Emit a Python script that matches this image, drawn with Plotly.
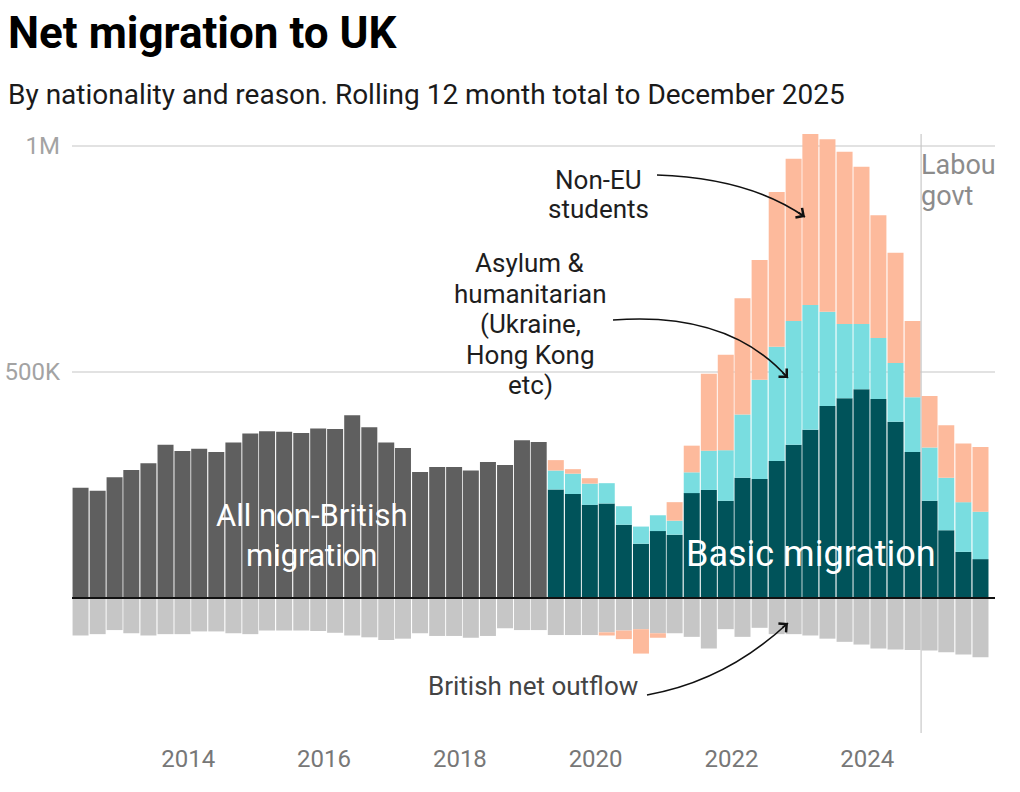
import pandas as pd
import plotly.graph_objects as go

# Rolling 12 month totals, one bar per quarter, placed at the end month of each period
periods = pd.date_range("2012-06-01", periods=54, freq="3MS")
split = 28  # from here on the non-British total is broken down by reason

# all values in thousands
british_outflow = [-83, -80, -71, -78, -83, -80, -80, -74, -74, -78, -80, -72, -72, -72,
                   -73, -77, -83, -87, -93, -90, -78, -84, -84, -88, -84, -67, -71, -71,
                   -82, -82, -82, -76, -72, -69, -78, -78, -86, -112, -69, -86, -66, -80,
                   -80, -83, -90, -97, -103, -112, -114, -115, -116, -120, -125, -131]
non_british = [244, 237, 267, 283, 298, 339, 325, 330, 323, 344, 364, 369, 368, 365,
               375, 374, 404, 378, 344, 332, 279, 290, 290, 282, 301, 294, 349, 345]
basic = [240, 230, 206, 209, 162, 120, 148, 140, 232, 239, 215, 266, 263,
         303, 339, 372, 425, 442, 462, 440, 390, 323, 215, 150, 102, 86]
asylum = [42, 45, 47, 45, 41, 38, 35, 31, 46, 87, 112, 140, 220,
          253, 274, 276, 208, 164, 144, 135, 130, 121, 118, 116, 110, 105]
students = [23, 10, 12, -7, -19, -54, -10, 41, 59, 170, 211, 257, 265,
            342, 359, 379, 382, 381, 348, 272, 244, 169, 114, 116, 130, 143]

year_ticks = [2014, 2016, 2018, 2020, 2022, 2024]

# Labour govt marker sits between the Sep 2024 and Dec 2024 bars
labour_x = periods[49] + (periods[50] - periods[49]) / 2

C_GREY = '#5f5f5f'
C_BRIT = '#c6c6c6'
C_BASIC = '#00535a'
C_ASYLUM = '#79dde0'
C_STUDENT = '#fdba9c'
FONT = 'Roboto'

bar_w = 86 * 24 * 3600 * 1000  # ms

fig = go.Figure()
fig.add_trace(go.Bar(x=periods, y=british_outflow, name='British net outflow',
                     marker=dict(color=C_BRIT, line=dict(width=0)), width=bar_w))
fig.add_trace(go.Bar(x=periods[:split], y=non_british, name='All non-British migration',
                     marker=dict(color=C_GREY, line=dict(width=0)), width=bar_w))
fig.add_trace(go.Bar(x=periods[split:], y=basic, name='Basic migration',
                     marker=dict(color=C_BASIC, line=dict(width=0)), width=bar_w))
fig.add_trace(go.Bar(x=periods[split:], y=asylum, name='Asylum & humanitarian',
                     marker=dict(color=C_ASYLUM, line=dict(width=0)), width=bar_w))
fig.add_trace(go.Bar(x=periods[split:], y=students, name='Non-EU students',
                     marker=dict(color=C_STUDENT, line=dict(width=0)), width=bar_w))

# Labour govt label, clipped by the plot area like in the original
fig.add_trace(go.Scatter(
    x=[labour_x, labour_x], y=[954, 885], mode='text',
    text=['Labour', 'govt'], textposition='middle right',
    textfont=dict(family=FONT, size=27, color='#8c8c8c'),
    cliponaxis=True, hoverinfo='skip', showlegend=False))

# plot area in pixels (used for the hand-placed labels and arrows)
L, R, T, B = 72, 995, 134, 733


def pp(px, py):
    return (px - L) / (R - L), (B - py) / (B - T)


def add_text(lines, cx, ys, size, color):
    for line, y in zip(lines, ys):
        x0, y0 = pp(cx, y)
        fig.add_annotation(x=x0, y=y0, xref='paper', yref='paper', text=line,
                           showarrow=False, xanchor='center', yanchor='middle',
                           font=dict(family=FONT, size=size, color=color))


def add_curve(p0, p1, p2, tail):
    a, b, c = pp(*p0), pp(*p1), pp(*p2)
    fig.add_shape(type='path', xref='paper', yref='paper',
                  path=f'M {a[0]},{a[1]} Q {b[0]},{b[1]} {c[0]},{c[1]}',
                  line=dict(color='#111111', width=1.6))
    fig.add_annotation(x=c[0], y=c[1], xref='paper', yref='paper', text='',
                       showarrow=True, arrowhead=4, arrowsize=1.4, arrowwidth=1.6,
                       arrowcolor='#111111', ax=tail[0], ay=tail[1], standoff=0)


add_text(['Non-EU', 'students'], 598, [180, 209], 26, '#1e1e1e')
add_curve((657, 175), (749, 178), (805, 217), (-8, -5.5))

add_text(['Asylum &', 'humanitarian', '(Ukraine,', 'Hong Kong', 'etc)'], 530,
         [263, 293.5, 324, 354.5, 385], 26, '#1e1e1e')
add_curve((613, 320), (729, 311), (788, 378), (-7, -7))

add_text(['British net outflow'], 533, [686], 26, '#444444')
add_curve((647, 695), (726, 681), (788, 623), (-7, 6))

add_text(['All non-British<br>migration'], 312, [535], 31, 'white')
add_text(['Basic migration'], 811, [554], 36, 'white')

# zero line above the bars
fig.add_shape(type='line', xref='paper', yref='y', x0=0, x1=1, y0=0, y1=0,
              line=dict(color='#111111', width=2), layer='above')
# Labour govt line
fig.add_shape(type='line', xref='x', yref='paper', x0=labour_x, x1=labour_x, y0=0, y1=1,
              line=dict(color='#c8c8c8', width=1.2), layer='above')

# title and subtitle
fig.add_annotation(x=pp(6, 0)[0], y=pp(0, 33)[1], xref='paper', yref='paper',
                   text='<b>Net migration to UK</b>', showarrow=False,
                   xanchor='left', yanchor='middle',
                   font=dict(family=FONT, size=44, color='#000000'))
fig.add_annotation(x=pp(6, 0)[0], y=pp(0, 94)[1], xref='paper', yref='paper',
                   text='By nationality and reason. Rolling 12 month total to December 2025',
                   showarrow=False, xanchor='left', yanchor='middle',
                   font=dict(family=FONT, size=28, color='#1a1a1a'))

fig.update_layout(
    barmode='relative',
    width=1020, height=792,
    margin=dict(l=L, r=1020 - R, t=T, b=792 - B, pad=0, autoexpand=False),
    plot_bgcolor='white', paper_bgcolor='white',
    showlegend=False,
    font=dict(family=FONT, color='#333333'),
)

fig.update_xaxes(
    type='date',
    range=['2012-04-16', '2025-11-18'],
    tickmode='array',
    tickvals=[f'{y}-01-01' for y in year_ticks],
    ticktext=[str(y) for y in year_ticks],
    tickfont=dict(family=FONT, size=24, color='#777777'),
    showgrid=False, zeroline=False, showline=False,
    ticks='', ticklabelstandoff=9, automargin=False,
)

fig.update_yaxes(
    range=[-298.7, 1026.5],
    tickmode='array',
    tickvals=[500, 1000],
    ticktext=['500K', '1M'],
    tickfont=dict(family=FONT, size=24, color='#a3a3a3'),
    showgrid=True, gridcolor='#e2e2e2', gridwidth=1.5,
    zeroline=False, showline=False,
    ticks='', ticklabelstandoff=11, automargin=False,
)

fig.write_html("out.html", config={'displayModeBar': False},
               post_script="document.body.style.margin='0';")
